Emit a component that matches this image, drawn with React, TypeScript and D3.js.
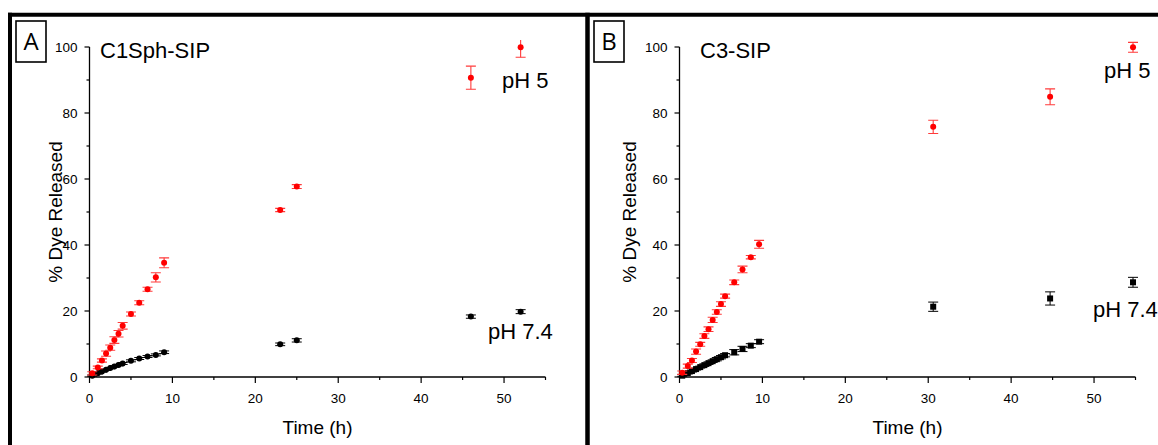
import React from "react";
import * as d3 from "d3";

// ---- Data ----
const timeA = [0.33, 1, 1.5, 2, 2.5, 3, 3.5, 4, 5, 6, 7, 8, 9, 23, 25, 46, 52];
const ph5A = [1.1, 2.9, 5.0, 7.1, 8.9, 11.2, 13.1, 15.5, 19.1, 22.5, 26.6, 30.2, 34.6, 50.6, 57.7, 90.7, 99.9];
const ph5AErr = [0.5, 0.4, 0.5, 0.8, 0.8, 1.0, 1.0, 1.0, 0.6, 0.6, 0.6, 1.4, 1.5, 0.5, 0.6, 3.5, 3.0];
const ph74A = [0.4, 1.1, 1.7, 2.2, 2.7, 3.2, 3.6, 4.1, 4.9, 5.6, 6.2, 6.7, 7.5, 9.9, 11.1, 18.3, 19.8];
const ph74AErr = [0.2, 0.2, 0.2, 0.2, 0.2, 0.2, 0.2, 0.3, 0.3, 0.3, 0.3, 0.3, 0.4, 0.4, 0.5, 0.5, 0.6];

const timeB = [0.33, 1, 1.5, 2, 2.5, 3, 3.5, 4, 4.5, 5, 5.5, 6.6, 7.6, 8.6, 9.6, 30.6, 44.7, 54.7];
const ph5B = [1.3, 3.3, 5.0, 7.7, 9.9, 12.4, 14.5, 17.3, 19.7, 22.1, 24.5, 28.7, 32.6, 36.3, 40.2, 75.8, 84.9, 99.9];
const ph5BErr = [0.5, 0.6, 0.6, 0.8, 0.6, 0.7, 0.7, 0.8, 0.7, 0.7, 0.6, 0.7, 1.0, 0.5, 1.2, 2.0, 2.4, 1.5];
const ph74B = [0.4, 1.2, 1.8, 2.4, 3.0, 3.6, 4.2, 4.8, 5.4, 6.0, 6.6, 7.5, 8.5, 9.5, 10.7, 21.3, 23.8, 28.7];
const ph74BErr = [0.3, 0.3, 0.3, 0.3, 0.3, 0.4, 0.4, 0.4, 0.5, 0.5, 0.5, 0.8, 0.8, 0.6, 0.6, 1.4, 2.0, 1.5];

const xTicks = [0, 10, 20, 30, 40, 50];
const yTicks = [0, 20, 40, 60, 80, 100];

const FONT = "'Liberation Sans', Arial, sans-serif";

type PanelProps = {
  id: string;
  letter: string;
  boxX: number;
  x0: number;
  x1: number;
  title: string;
  titleX: number;
  ylabelX: number;
  time: number[];
  red: number[];
  redErr: number[];
  black: number[];
  blackErr: number[];
  blackSquare: boolean;
  ph5: [number, number];
  ph74: [number, number];
};

function Panel(p: PanelProps) {
  const x = d3.scaleLinear().domain([0, 55]).range([p.x0, p.x1]);
  const y = d3.scaleLinear().domain([0, 100]).range([377, 47]);
  const xMinor = d3.range(0, 56, 5);
  const yMinor = d3.range(0, 101, 10);
  const cap = 5;
  const errColor = "#ff3a3a";
  return (
    <g>
      <defs>
        <clipPath id={`clip-${p.id}`}>
          <rect x={p.x0 - 10} y={40} width={p.x1 - p.x0 + 40} height={345} />
        </clipPath>
      </defs>
      {/* letter box */}
      <rect x={p.boxX} y={21} width={30} height={41} fill="none" stroke="#000" strokeWidth={1.6} />
      <text x={p.boxX + 15} y={50} textAnchor="middle" fontSize={24} fontFamily="'Open Sans', sans-serif">
        {p.letter}
      </text>
      {/* axes */}
      <line x1={p.x0} x2={p.x1} y1={377} y2={377} stroke="#000" strokeWidth={1.3} />
      <line x1={p.x0} x2={p.x0} y1={47} y2={377} stroke="#000" strokeWidth={1.3} />
      {xMinor.map((t) => (
        <line key={"xt" + t} x1={x(t)} x2={x(t)} y1={377} y2={377 + (t % 10 === 0 ? 6 : 3)} stroke="#000" strokeWidth={1.2} />
      ))}
      {yMinor.map((t) => (
        <line key={"yt" + t} x1={p.x0} x2={p.x0 - (t % 20 === 0 ? 5 : 3)} y1={y(t)} y2={y(t)} stroke="#000" strokeWidth={1.2} />
      ))}
      {xTicks.map((t) => (
        <text key={"xl" + t} x={x(t)} y={403} textAnchor="middle" fontSize={13.5} fontFamily={FONT}>
          {t}
        </text>
      ))}
      {yTicks.map((t) => (
        <text key={"yl" + t} x={p.x0 - 12} y={y(t) + 5} textAnchor="end" fontSize={13.5} fontFamily={FONT}>
          {t}
        </text>
      ))}
      <text x={(p.x0 + p.x1) / 2} y={434} textAnchor="middle" fontSize={19} fontFamily={FONT}>
        Time (h)
      </text>
      <text
        transform={`translate(${p.ylabelX},${212}) rotate(-90)`}
        textAnchor="middle"
        fontSize={19}
        fontFamily={FONT}
      >
        % Dye Released
      </text>
      <text x={p.titleX} y={58} fontSize={22} fontFamily={FONT}>
        {p.title}
      </text>
      <text x={p.ph5[0]} y={p.ph5[1]} fontSize={22} fontFamily={FONT}>
        pH 5
      </text>
      <text x={p.ph74[0]} y={p.ph74[1]} fontSize={22} fontFamily={FONT}>
        pH 7.4
      </text>
      <g clipPath={`url(#clip-${p.id})`}>
        {p.time.map((t, i) => {
          const cx = x(t);
          const lo = y(p.black[i] - p.blackErr[i]);
          const hi = y(p.black[i] + p.blackErr[i]);
          return (
            <g key={"b" + i}>
              <line x1={cx} x2={cx} y1={lo} y2={hi} stroke="#000" strokeWidth={1} />
              <line x1={cx - cap} x2={cx + cap} y1={lo} y2={lo} stroke="#000" strokeWidth={1} />
              <line x1={cx - cap} x2={cx + cap} y1={hi} y2={hi} stroke="#000" strokeWidth={1} />
              {p.blackSquare ? (
                <rect x={cx - 3} y={y(p.black[i]) - 3} width={6} height={6} fill="#000" />
              ) : (
                <circle cx={cx} cy={y(p.black[i])} r={3} fill="#000" />
              )}
            </g>
          );
        })}
        {p.time.map((t, i) => {
          const cx = x(t);
          const lo = y(p.red[i] - p.redErr[i]);
          const hi = y(p.red[i] + p.redErr[i]);
          return (
            <g key={"r" + i}>
              <line x1={cx} x2={cx} y1={lo} y2={hi} stroke={errColor} strokeWidth={1.1} />
              <line x1={cx - cap} x2={cx + cap} y1={lo} y2={lo} stroke={errColor} strokeWidth={1.1} />
              <line x1={cx - cap} x2={cx + cap} y1={hi} y2={hi} stroke={errColor} strokeWidth={1.1} />
              <circle cx={cx} cy={y(p.red[i])} r={3} fill="#ff0000" />
            </g>
          );
        })}
      </g>
    </g>
  );
}

export default function App() {
  return (
    <svg
      width={1158}
      height={445}
      style={{ position: "absolute", left: 0, top: 0, background: "#fff" }}
    >
      <rect x={0} y={0} width={1158} height={445} fill="#fff" />
      <Panel
        id="A"
        letter="A"
        boxX={16}
        x0={89.5}
        x1={545.5}
        title="C1Sph-SIP"
        titleX={100}
        ylabelX={62}
        time={timeA}
        red={ph5A}
        redErr={ph5AErr}
        black={ph74A}
        blackErr={ph74AErr}
        blackSquare={false}
        ph5={[502, 88]}
        ph74={[488, 339]}
      />
      <Panel
        id="B"
        letter="B"
        boxX={594}
        x0={679.5}
        x1={1135.5}
        title="C3-SIP"
        titleX={700}
        ylabelX={636}
        time={timeB}
        red={ph5B}
        redErr={ph5BErr}
        black={ph74B}
        blackErr={ph74BErr}
        blackSquare={true}
        ph5={[1104, 78]}
        ph74={[1093, 317]}
      />
      {/* frame lines */}
      <line x1={8} x2={1158} y1={14.7} y2={14.7} stroke="#000" strokeWidth={4} />
      <line x1={10} x2={10} y1={12.7} y2={445} stroke="#000" strokeWidth={4} />
      <line x1={587.5} x2={587.5} y1={12.7} y2={445} stroke="#000" strokeWidth={4.5} />
    </svg>
  );
}
